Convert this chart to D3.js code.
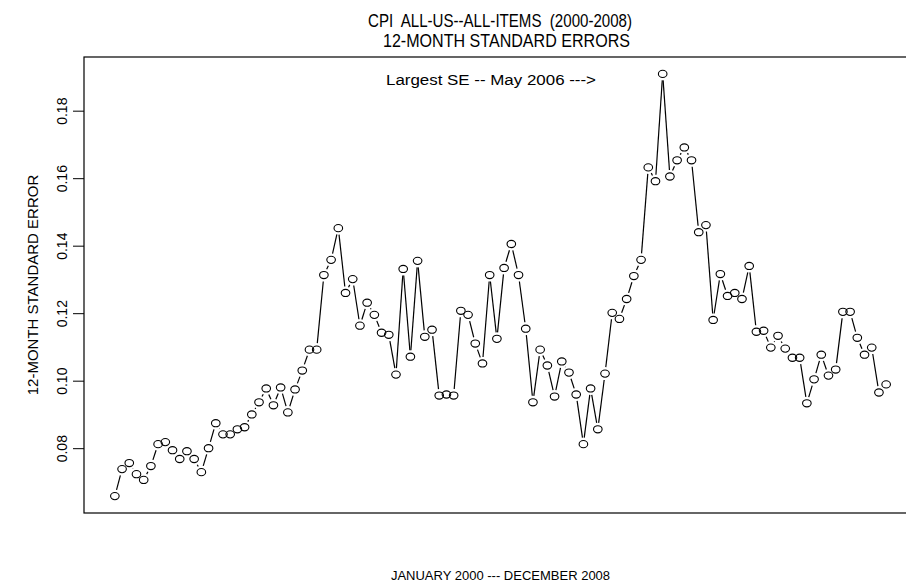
<!DOCTYPE html>
<html lang="en">
    <head>
        <meta charset="utf-8">
        <title>CPI ALL-US--ALL-ITEMS 12-month standard errors</title>
        <script type="text/javascript" src="https://cdn.jsdelivr.net/npm/d3@7"></script>
        <style>
            body { margin: 0; background: #fff; }
            text { font-family: "Liberation Sans", Arial, sans-serif; fill: #000; white-space: pre; }
        </style>
    </head>
    <body>
        <div class="chart"></div>
        <script type="text/javascript">
            // 12-month standard errors, Jan 2000 .. Dec 2008 (one per month)
            var se2000 = [0.0658, 0.0738, 0.0756, 0.0723, 0.0706, 0.0747, 0.0812, 0.0818, 0.0794, 0.0768, 0.0791, 0.0768];
            var se2001 = [0.0729, 0.0800, 0.0874, 0.0841, 0.0841, 0.0856, 0.0862, 0.0900, 0.0936, 0.0977, 0.0927, 0.0980];
            var se2002 = [0.0906, 0.0974, 0.1030, 0.1092, 0.1092, 0.1313, 0.1358, 0.1452, 0.1260, 0.1301, 0.1163, 0.1231];
            var se2003 = [0.1195, 0.1142, 0.1136, 0.1018, 0.1331, 0.1071, 0.1355, 0.1130, 0.1151, 0.0956, 0.0959, 0.0956];
            var se2004 = [0.1207, 0.1195, 0.1110, 0.1051, 0.1313, 0.1124, 0.1334, 0.1405, 0.1313, 0.1154, 0.0936, 0.1092];
            var se2005 = [0.1045, 0.0953, 0.1057, 0.1024, 0.0959, 0.0812, 0.0977, 0.0856, 0.1021, 0.1201, 0.1183, 0.1242];
            var se2006 = [0.1310, 0.1358, 0.1632, 0.1591, 0.1909, 0.1605, 0.1653, 0.1691, 0.1653, 0.1440, 0.1461, 0.1180];
            var se2007 = [0.1316, 0.1251, 0.1260, 0.1242, 0.1340, 0.1145, 0.1148, 0.1098, 0.1133, 0.1095, 0.1068, 0.1068];
            var se2008 = [0.0933, 0.1004, 0.1077, 0.1015, 0.1033, 0.1204, 0.1204, 0.1127, 0.1077, 0.1098, 0.0965, 0.0989];
            var yTicks = [0.08, 0.10, 0.12, 0.14, 0.16, 0.18];

            var dataset = [].concat(se2000, se2001, se2002, se2003, se2004, se2005, se2006, se2007, se2008);

            var w = 906;
            var h = 588;
            // plot region (the right edge runs past the picture)
            var pLeft = 84, pRight = 917, pTop = 57, pBottom = 513;

            var svg = d3.select("div.chart")
                        .append("svg")
                        .attr("width", w)
                        .attr("height", h);

            // R style 4% padding on both scales
            var n = dataset.length;
            var xPad = (n - 1) * 0.04;
            var x = d3.scaleLinear()
                      .domain([1 - xPad, n + xPad])
                      .range([pLeft, pRight]);
            var ext = d3.extent(dataset);
            var yPad = (ext[1] - ext[0]) * 0.04;
            var y = d3.scaleLinear()
                      .domain([ext[0] - yPad, ext[1] + yPad])
                      .range([pBottom, pTop]);

            // box
            svg.append("rect")
               .attr("x", pLeft)
               .attr("y", pTop)
               .attr("width", pRight - pLeft)
               .attr("height", pBottom - pTop)
               .attr("fill", "none")
               .attr("stroke", "#000")
               .attr("stroke-width", 1.2);

            // y axis, labels turned like R's las=0
            var yAxis = svg.append("g")
                           .attr("transform", "translate(" + pLeft + ",0)")
                           .call(d3.axisLeft(y).tickValues(yTicks).tickFormat(d3.format(".2f")).tickSize(11).tickPadding(5));
            yAxis.select(".domain").remove();
            yAxis.selectAll(".tick line").attr("stroke", "#000");
            yAxis.selectAll(".tick text")
                 .attr("transform", "rotate(-90)")
                 .attr("x", 0)
                 .attr("y", -17)
                 .attr("dy", 0)
                 .attr("text-anchor", "middle")
                 .attr("font-size", "14px")
                 .attr("font-family", null);

            // segments between points, with gaps round each point (type = "b")
            var gap = 6.5;
            var segs = [];
            for (var i = 0; i < n - 1; i++) {
                var x1 = x(i + 1), y1 = y(dataset[i]);
                var x2 = x(i + 2), y2 = y(dataset[i + 1]);
                var len = Math.sqrt((x2 - x1) * (x2 - x1) + (y2 - y1) * (y2 - y1));
                if (len > 2 * gap) {
                    var ux = (x2 - x1) / len, uy = (y2 - y1) / len;
                    segs.push([x1 + ux * gap, y1 + uy * gap, x2 - ux * gap, y2 - uy * gap]);
                }
            }
            svg.selectAll("line.seg")
               .data(segs)
               .enter()
               .append("line")
               .attr("class", "seg")
               .attr("x1", function(d){return d[0];})
               .attr("y1", function(d){return d[1];})
               .attr("x2", function(d){return d[2];})
               .attr("y2", function(d){return d[3];})
               .attr("stroke", "#000")
               .attr("stroke-width", 1.2);

            // open circles
            svg.selectAll("ellipse")
               .data(dataset)
               .enter()
               .append("ellipse")
               .attr("cx", function(d, i){return x(i + 1);})
               .attr("cy", function(d){return y(d);})
               .attr("rx", 4.3)
               .attr("ry", 3.6)
               .attr("fill", "none")
               .attr("stroke", "#000")
               .attr("stroke-width", 1.1);

            // titles and labels (the original face is narrower than Liberation Sans)
            var mid = (pLeft + pRight) / 2;
            svg.append("text")
               .attr("x", 368)
               .attr("y", 27)
               .attr("font-size", "19px")
               .attr("textLength", 264)
               .attr("lengthAdjust", "spacingAndGlyphs")
               .text("CPI  ALL-US--ALL-ITEMS  (2000-2008)");
            svg.append("text")
               .attr("x", 383)
               .attr("y", 47)
               .attr("font-size", "19px")
               .attr("textLength", 247)
               .attr("lengthAdjust", "spacingAndGlyphs")
               .text("12-MONTH STANDARD ERRORS");
            svg.append("text")
               .attr("x", 386)
               .attr("y", 85)
               .attr("font-size", "14px")
               .attr("textLength", 210)
               .attr("lengthAdjust", "spacingAndGlyphs")
               .text("Largest SE -- May 2006 --->");
            svg.append("text")
               .attr("x", mid)
               .attr("y", 580)
               .attr("text-anchor", "middle")
               .attr("font-size", "13px")
               .text("JANUARY 2000 --- DECEMBER 2008");
            svg.append("text")
               .attr("transform", "translate(38," + ((pTop + pBottom) / 2) + ") rotate(-90)")
               .attr("text-anchor", "middle")
               .attr("font-size", "15px")
               .text("12-MONTH STANDARD ERROR");
        </script>
    </body>
</html>
